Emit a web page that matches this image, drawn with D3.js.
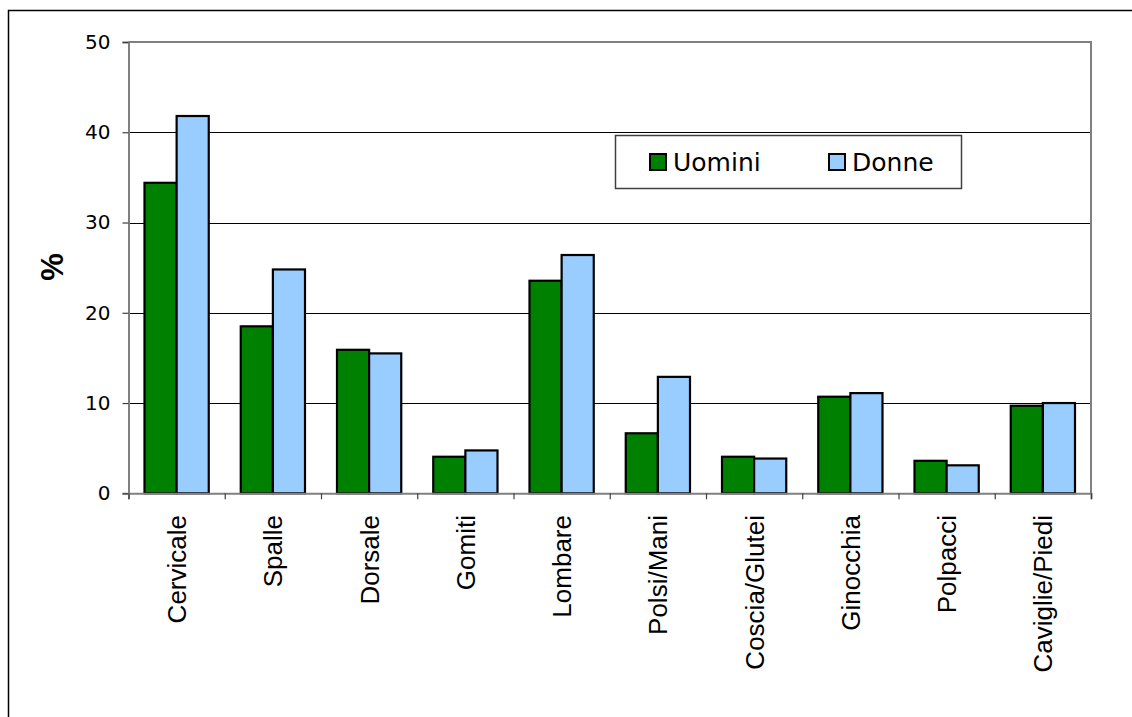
<!DOCTYPE html>
<html>
<head>
<meta charset="utf-8">
<script src="https://cdn.jsdelivr.net/npm/d3@7"></script>
<style>
  body { margin: 0; background: #fff; }
  .tick text { fill: #000; }
</style>
</head>
<body>
<div id="chart"><svg></svg></div>
<script>
var categories = ["Cervicale", "Spalle", "Dorsale", "Gomiti", "Lombare", "Polsi/Mani",
  "Coscia/Glutei", "Ginocchia", "Polpacci", "Caviglie/Piedi"];
var seriesNames = ["Uomini", "Donne"];
var uomini = [34.4, 18.5, 15.9, 4.05, 23.55, 6.65, 4.05, 10.7, 3.6, 9.7];
var donne = [41.8, 24.8, 15.5, 4.75, 26.4, 12.9, 3.85, 11.1, 3.1, 10.0];
var colors = ["#008000", "#99ccff"];
var yTicks = [0, 10, 20, 30, 40, 50];

var W = 1132, H = 717;
// plot area edges
var pLeft = 128.5, pRight = 1091, pTop = 42, pBottom = 493.3;

var svg = d3.select("#chart svg").
  attr("width", W).
  attr("height", H);

// outer chart border (runs off the right and bottom edge)
svg.append("rect").
  attr("x", 8.5).attr("y", 10.5).
  attr("width", 1200).attr("height", 800).
  attr("fill", "#fff").
  attr("stroke", "#000").
  attr("stroke-width", 1.5);

var x = d3.scaleBand().
  domain(categories).
  range([pLeft, pRight]);

var x1 = d3.scaleBand().
  domain(seriesNames).
  range([16, x.bandwidth() - 16]);

var xEdge = d3.scaleLinear().
  domain([0, categories.length]).
  range([pLeft, pRight]);

var y = d3.scaleLinear().
  domain([0, 50]).
  range([pBottom, pTop]);

// gridlines
svg.append("g").
  selectAll("line").
  data(yTicks.filter(function(d) { return d > 0 && d < 50; })).
  enter().append("line").
  attr("x1", pLeft).attr("x2", pRight).
  attr("y1", function(d) { return Math.round(y(d)) + 0.5; }).
  attr("y2", function(d) { return Math.round(y(d)) + 0.5; }).
  attr("stroke", "#000").
  attr("stroke-width", 1);

// plot area frame (top + right, gray)
svg.append("path").
  attr("d", "M" + pLeft + "," + pTop + "H" + pRight + "V" + pBottom).
  attr("fill", "none").
  attr("stroke", "#808080").
  attr("stroke-width", 2);

// bars
var data = categories.map(function(c, i) {
  return { cat: c, values: [uomini[i], donne[i]] };
});

var groups = svg.append("g").
  selectAll("g").
  data(data).
  enter().append("g").
  attr("transform", function(d) { return "translate(" + x(d.cat) + ",0)"; });

groups.selectAll("rect").
  data(function(d) {
    return d.values.map(function(v, j) { return { key: seriesNames[j], value: v, j: j }; });
  }).
  enter().append("rect").
  attr("x", function(d) { return x1(d.key); }).
  attr("width", x1.bandwidth()).
  attr("y", function(d) { return y(d.value); }).
  attr("height", function(d) { return pBottom - y(d.value); }).
  attr("fill", function(d) { return colors[d.j]; }).
  attr("stroke", "#000").
  attr("stroke-width", 2.2);

// y axis
var yAxis = d3.axisLeft(y).
  tickValues(yTicks).
  tickSize(6).
  tickPadding(12);

var gY = svg.append("g").
  attr("transform", "translate(" + pLeft + ",0)").
  call(yAxis);
gY.select(".domain").attr("stroke", "#808080").attr("stroke-width", 2);
gY.selectAll(".tick line").attr("stroke", "#404040").attr("stroke-width", 1.2);
gY.selectAll(".tick text").
  attr("font-family", "DejaVu Sans").
  attr("font-size", 20);

// x axis: ticks at category boundaries
var xAxis = d3.axisBottom(xEdge).
  tickValues(d3.range(categories.length + 1)).
  tickSize(6).
  tickFormat("");

var gX = svg.append("g").
  attr("transform", "translate(0," + pBottom + ")").
  call(xAxis);
gX.select(".domain").attr("stroke", "#808080").attr("stroke-width", 2);
gX.selectAll(".tick line").attr("stroke", "#404040").attr("stroke-width", 1.2);

// category labels, rotated
svg.append("g").
  selectAll("text").
  data(categories).
  enter().append("text").
  attr("transform", function(d) {
    return "translate(" + (x(d) + x.bandwidth() / 2) + "," + 515 + ") rotate(-90)";
  }).
  attr("dy", "0.36em").
  attr("text-anchor", "end").
  attr("font-family", "Liberation Sans, Arial, sans-serif").
  attr("font-size", 26).
  text(function(d) { return d; });

// y axis title
svg.append("text").
  attr("transform", "translate(52,267) rotate(-90)").
  attr("dy", "0.36em").
  attr("text-anchor", "middle").
  attr("font-family", "Liberation Sans, Arial, sans-serif").
  attr("font-weight", "bold").
  attr("font-size", 31).
  text("%");

// legend
var legend = svg.append("g");
legend.append("rect").
  attr("x", 615.5).attr("y", 135.5).
  attr("width", 346).attr("height", 53).
  attr("fill", "#fff").
  attr("stroke", "#404040").
  attr("stroke-width", 1.5);

var legendX = [650, 829];
var items = legend.selectAll("g.item").
  data(seriesNames).
  enter().append("g").
  attr("class", "item").
  attr("transform", function(d, i) { return "translate(" + legendX[i] + ",0)"; });

items.append("rect").
  attr("x", 0).attr("y", 154).
  attr("width", 16).attr("height", 16).
  attr("fill", function(d, i) { return colors[i]; }).
  attr("stroke", "#000").
  attr("stroke-width", 2);

items.append("text").
  attr("x", 23).attr("y", 171).
  attr("font-family", "DejaVu Sans").
  attr("font-size", 25).
  text(function(d) { return d; });
</script>
</body>
</html>
